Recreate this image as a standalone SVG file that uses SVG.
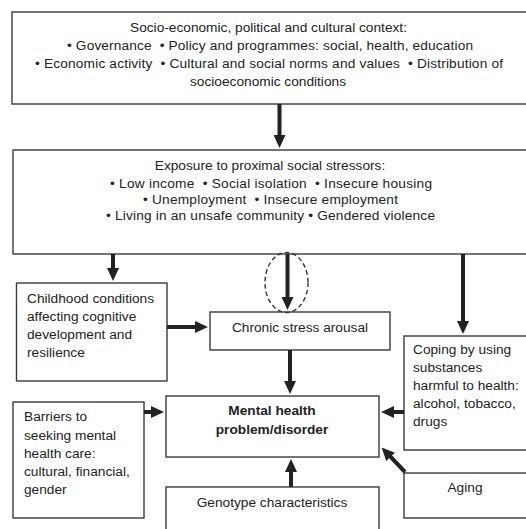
<svg xmlns="http://www.w3.org/2000/svg" width="526" height="529" viewBox="0 0 526 529">
<defs>
<style>
.box{fill:#fff;stroke:#3a3a3a;stroke-width:1.4}
.t{font-family:"Liberation Sans",Arial,sans-serif;font-size:13.7px;fill:#222;white-space:pre}
.c{text-anchor:middle}
.b{font-weight:bold}
.arr{stroke:#222;stroke-width:4;fill:none;marker-end:url(#ah)}
</style>
<marker id="ah" viewBox="0 0 13 12" refX="3" refY="6" markerWidth="13" markerHeight="12" markerUnits="userSpaceOnUse" orient="auto">
<path d="M0,0 L13,6 L0,12 z" fill="#222"/>
</marker>
</defs>
<rect width="526" height="529" fill="#fff"/>
<g id="context">
<rect class="box" x="12" y="12" width="530" height="92"/>
<text class="t c" x="268.5" y="31.5">Socio-economic, political and cultural context:</text>
<text class="t c" x="270" y="49.5" textLength="406" lengthAdjust="spacing">• Governance  • Policy and programmes: social, health, education</text>
<text class="t c" x="269" y="67.5" textLength="468" lengthAdjust="spacing">• Economic activity  • Cultural and social norms and values  • Distribution of</text>
<text class="t c" x="268" y="85.5">socioeconomic conditions</text>
</g>
<g id="stressors">
<rect class="box" x="13" y="150" width="530" height="104"/>
<text class="t c" x="270" y="169.5">Exposure to proximal social stressors:</text>
<text class="t c" x="271" y="187.5" textLength="322" lengthAdjust="spacing">• Low income  • Social isolation  • Insecure housing</text>
<text class="t c" x="270.5" y="204" textLength="255" lengthAdjust="spacing">• Unemployment  • Insecure employment</text>
<text class="t c" x="270.5" y="220" textLength="329" lengthAdjust="spacing">• Living in an unsafe community • Gendered violence</text>
</g>
<g id="childhood">
<rect class="box" x="16.5" y="283" width="150.5" height="98"/>
<text class="t" x="27" y="302.5">Childhood conditions</text>
<text class="t" x="27" y="321">affecting cognitive</text>
<text class="t" x="27" y="339">development and</text>
<text class="t" x="27" y="356.5">resilience</text>
</g>
<g id="chronic">
<rect class="box" x="210" y="312" width="180" height="38"/>
<text class="t c" x="300" y="332">Chronic stress arousal</text>
</g>
<g id="coping">
<rect class="box" x="404" y="336" width="130" height="114"/>
<text class="t" x="413" y="354">Coping by using</text>
<text class="t" x="413" y="372">substances</text>
<text class="t" x="413" y="390">harmful to health:</text>
<text class="t" x="413" y="408">alcohol, tobacco,</text>
<text class="t" x="413" y="426">drugs</text>
</g>
<g id="mental">
<rect class="box" x="166" y="396" width="213" height="61"/>
<text class="t c b" x="272" y="415">Mental health</text>
<text class="t c b" x="272" y="434">problem/disorder</text>
</g>
<g id="barriers">
<rect class="box" x="13" y="402" width="131" height="116"/>
<text class="t" x="24" y="421">Barriers to</text>
<text class="t" x="24" y="439.5">seeking mental</text>
<text class="t" x="24" y="457.5">health care:</text>
<text class="t" x="24" y="475.5">cultural, financial,</text>
<text class="t" x="24" y="494">gender</text>
</g>
<g id="aging">
<rect class="box" x="404" y="473" width="130" height="45"/>
<text class="t c" x="465" y="492">Aging</text>
</g>
<g id="genotype">
<rect class="box" x="166" y="487" width="213" height="50"/>
<text class="t c" x="272" y="507">Genotype characteristics</text>
</g>
<g id="connectors">
<line class="arr" x1="279.5" y1="104" x2="279.5" y2="138"/>
<line class="arr" x1="113" y1="254" x2="113" y2="271"/>
<ellipse cx="286.5" cy="282.5" rx="21.5" ry="30" fill="none" stroke="#333" stroke-width="1.4" stroke-dasharray="4.5,3"/>
<line class="arr" x1="287.5" y1="254" x2="287.5" y2="300"/>
<line class="arr" x1="167" y1="327" x2="198" y2="327"/>
<line class="arr" x1="290" y1="350" x2="290" y2="384"/>
<line class="arr" x1="463" y1="254" x2="463" y2="324"/>
<line class="arr" x1="404" y1="412" x2="391" y2="412"/>
<line class="arr" x1="144" y1="412" x2="154" y2="412"/>
<line class="arr" x1="405" y1="472" x2="388.5" y2="454.7"/>
<line class="arr" x1="291" y1="487" x2="291" y2="469"/>
</g>
</svg>
